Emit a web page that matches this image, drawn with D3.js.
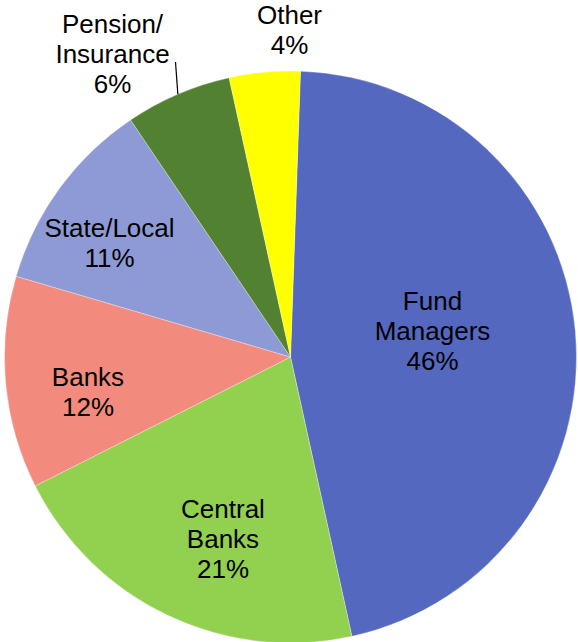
<!DOCTYPE html>
<html>
<head>
<meta charset="utf-8">
<script src="https://cdn.jsdelivr.net/npm/d3@7"></script>
<style>
  html, body { margin: 0; padding: 0; background: #fff; }
  svg { display: block; }
  text { font-family: "Liberation Sans", Arial, sans-serif; fill: #000; }
</style>
</head>
<body>
<svg id="chart" width="578" height="642"></svg>
<script>
// Holders by category (percent of total)
const categories = ["Fund Managers", "Central Banks", "Banks", "State/Local", "Pension/Insurance", "Other"];
const shares = [46, 21, 12, 11, 6, 4];
const sliceColors = ["#5568C0", "#92D050", "#F28B7E", "#8E9AD6", "#538132", "#FFFF00"];
const labelLines = [
  ["Fund", "Managers"],
  ["Central", "Banks"],
  ["Banks"],
  ["State/Local"],
  ["Pension/", "Insurance"],
  ["Other"]
];

// Layout: pie geometry and label anchors (center x, first baseline y)
const W = 578, H = 642;
const cx = 290.5, cy = 357, radius = 286;
const startDeg = 2;
const labelPos = [
  [432.5, 310],
  [223, 518],
  [88, 386],
  [109.5, 237],
  [112.5, 33],
  [289.5, 23.5]
];
const lineGap = 30;
const fontSize = 26;

const svg = d3.select("#chart");
const g = svg.append("g").attr("transform", `translate(${cx},${cy})`);

const pie = d3.pie()
  .value(d => d)
  .sort(null)
  .startAngle(startDeg * Math.PI / 180)
  .endAngle((startDeg + 360) * Math.PI / 180);

const arc = d3.arc().innerRadius(0).outerRadius(radius);
const color = d3.scaleOrdinal().domain(categories).range(sliceColors);

const arcs = pie(shares).map((a, i) => Object.assign(a, { name: categories[i] }));

g.selectAll("path.slice")
  .data(arcs)
  .join("path")
  .attr("class", "slice")
  .attr("d", arc)
  .attr("fill", d => color(d.name))
  .attr("stroke", "#ffffff")
  .attr("stroke-width", 0.3);

// Leader line for the Pension/Insurance label, ending on its slice edge
const pensionArc = arcs[4];
const leaderAngle = (pensionArc.startAngle + pensionArc.endAngle) / 2;
const edgeX = cx + radius * Math.sin(leaderAngle);
const edgeY = cy - radius * Math.cos(leaderAngle);
svg.append("line")
  .attr("x1", 175.5).attr("y1", 62)
  .attr("x2", edgeX).attr("y2", edgeY)
  .attr("stroke", "#000")
  .attr("stroke-width", 1.2);

// Category labels with percentages
const labels = svg.selectAll("text.lbl")
  .data(arcs)
  .join("text")
  .attr("class", "lbl")
  .attr("text-anchor", "middle")
  .attr("font-size", fontSize)
  .attr("x", (d, i) => labelPos[i][0])
  .attr("y", (d, i) => labelPos[i][1]);

labels.each(function(d, i) {
  const t = d3.select(this);
  const lines = labelLines[i].concat([d.data + "%"]);
  lines.forEach((ln, k) => {
    t.append("tspan")
      .attr("x", labelPos[i][0])
      .attr("dy", k === 0 ? 0 : lineGap)
      .text(ln);
  });
});
</script>
</body>
</html>
